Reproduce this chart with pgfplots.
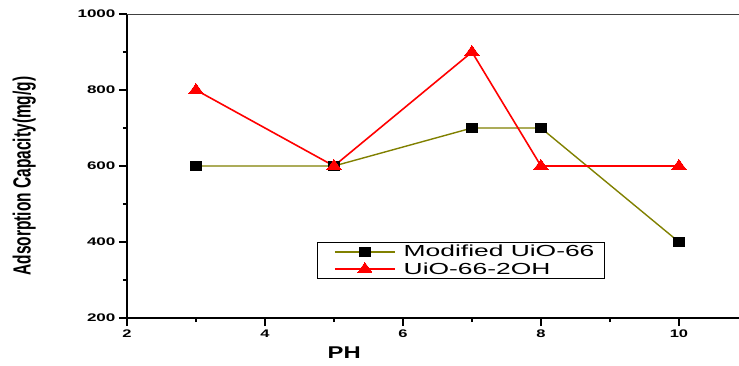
\documentclass[border=0pt]{standalone}
\usepackage{pgfplots}
\pgfplotsset{compat=1.18}
\usepackage{fontspec}
\setmainfont{Liberation Sans}
\definecolor{olivel}{RGB}{128,128,0}
\begin{document}
\begin{tikzpicture}[x=1pt,y=1pt]
\path[use as bounding box] (-127,-47) rectangle (612,318);
\begin{axis}[
 at={(0,0)}, anchor=south west,
 width=612pt, height=304pt, scale only axis,
 xmin=2, xmax=10.87, ymin=200, ymax=1000,
 clip=false,
 axis x line*=bottom, axis y line*=left,
 axis line style={line width=1.6pt, black, -},
 xtick={2,4,6,8,10}, ytick={200,400,...,1000},
 minor x tick num=1, minor y tick num=1,
 tick align=outside,
 major tick length=8pt, minor tick length=4pt,
 tick style={line width=1.2pt, black},
 /pgf/number format/assume math mode=true,
 /pgf/number format/1000 sep={},
 ticklabel style={font=\bfseries\fontsize{11}{13}\selectfont},
 xticklabel={\scalebox{1.5}[1]{\pgfmathprintnumber{\tick}}},
 yticklabel={\scalebox{1.55}[1]{\pgfmathprintnumber{\tick}}},
 xlabel={\scalebox{1.4}[1]{PH}},
 xlabel style={font=\bfseries\fontsize{17}{20}\selectfont, at={(axis description cs:0.355,-0.115)}, anchor=center},
 ylabel={\scalebox{1}[1.6]{Adsorption Capacity(mg/g)}},
 ylabel style={font=\bfseries\fontsize{15.5}{19}\selectfont, at={(axis description cs:-0.168,0.467)}, anchor=center},
 legend style={at={(axis description cs:0.31,0.25)}, anchor=north west, draw=black, line width=0.8pt,
   font=\fontsize{16}{18}\selectfont, inner xsep=1pt, inner ysep=1pt, row sep=0pt},
 legend cell align=left,
 legend image code/.code={\path (0pt,0pt) (82pt,0pt); \draw[mark repeat=2,mark phase=2] plot coordinates {(16pt,0pt) (46pt,0pt) (76pt,0pt)};},
]
\draw[color=black!75, line width=0.8pt] (rel axis cs:0,1) -- (rel axis cs:1,1);
\addplot[color=olivel, line width=1.4pt, mark=square*, mark size=4.5pt, mark options={fill=black, draw=black, line width=0pt, xscale=1.2}]
 coordinates {(3,600) (5,600) (7,700) (8,700) (10,400)};
\addlegendentry{\scalebox{1.65}[1]{Modified UiO-66}\hspace*{7pt}}
\addplot[color=red, line width=1.6pt, mark=triangle*, mark size=6.5pt, mark options={fill=red, draw=red, line width=0pt, xscale=1.25}]
 coordinates {(3,800) (5,600) (7,900) (8,600) (10,600)};
\addlegendentry{\scalebox{1.65}[1]{UiO-66-2OH}}
\end{axis}
\end{tikzpicture}
\end{document}
